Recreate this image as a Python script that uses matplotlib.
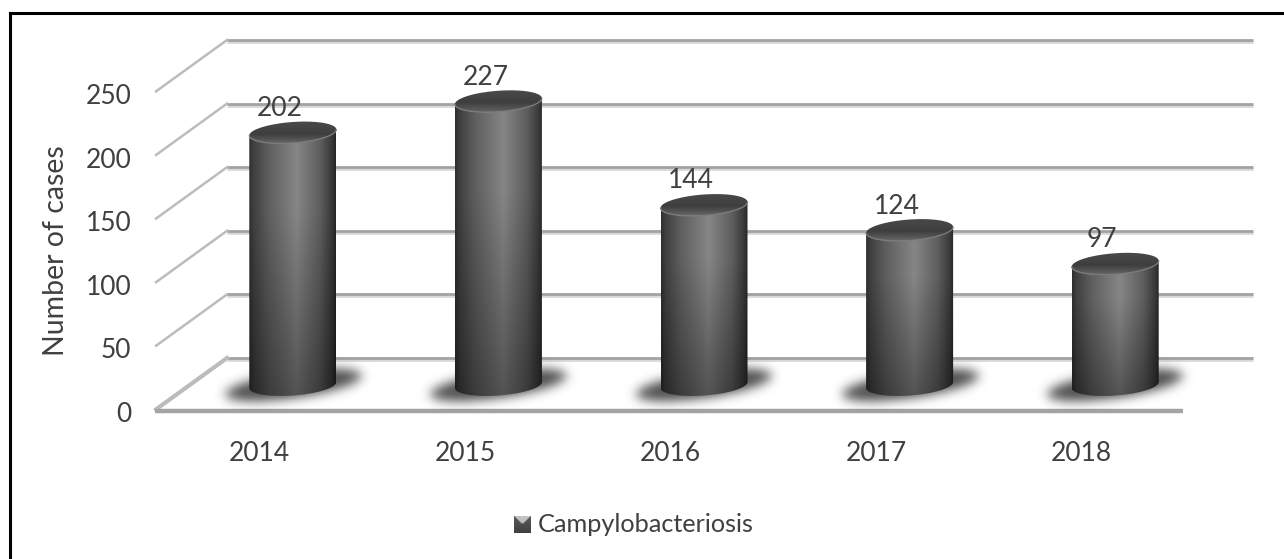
import numpy as np
import matplotlib
matplotlib.use("Agg")
import matplotlib.pyplot as plt
from matplotlib.path import Path
from matplotlib.patches import PathPatch
from matplotlib.lines import Line2D
from matplotlib.colors import LinearSegmentedColormap
from matplotlib.transforms import ScaledTranslation

plt.rcParams['font.family'] = ['Lato', 'DejaVu Sans']

years = ['2014', '2015', '2016', '2017', '2018']
cases = [202, 227, 144, 124, 97]
y_ticks = [0, 50, 100, 150, 200, 250]
series_name = 'Campylobacteriosis'
y_title = 'Number of cases'

TEXT = '#404040'
FS = 19
W, H = 1284, 559
fig = plt.figure(figsize=(W / 100, H / 100), dpi=100, facecolor='white')

# Front plane of the pseudo-3D chart; depth is added as a data-space offset.
L, R, Y0, Y250 = 155, 1183, 410, 92
ax = fig.add_axes([L / W, 1 - Y0 / H, (R - L) / W, (Y0 - Y250) / H])
ax.set_xlim(-0.5, 4.5)
ax.set_ylim(0, 250)
ax.patch.set_visible(False)
for s in ax.spines.values():
    s.set_visible(False)

ux = (R - L) / 5           # pixels per category
uy = (Y0 - Y250) / 250     # pixels per case
depth_x = 72 / ux
depth_y = 52 / uy
x_left, x_right = -0.5, 4.5

# Walls: grid lines on the back plane, slanted lines to the value axis.
for v in y_ticks:
    if v == 0:
        ax.plot([x_left, x_right], [v - 0.6, v - 0.6], color='#a4a4a4', lw=3.2,
                solid_capstyle='butt', clip_on=False, zorder=2)
    bx0, bx1 = x_left + depth_x, x_right + depth_x - 2 / ux
    by = v + depth_y
    ax.plot([bx0, bx1], [by - 1.5, by - 1.5], color='#d8d8d8', lw=2.0,
            solid_capstyle='butt', clip_on=False, zorder=1)
    ax.plot([bx0, bx1], [by, by], color='#a2a2a2', lw=2.0,
            solid_capstyle='butt', clip_on=False, zorder=1)
    ax.plot([x_left + 0.005, bx0], [v + 0.5, by], color='#bcbcbc', lw=1.8 if v else 3.0,
            clip_on=False, zorder=1)

# Cylinder geometry in data units.
cx_shift = 35.0 / ux
half_w = 43.5 / ux
half_h = 10.5 / uy
tilt = 3.0 / uy
base_v = 25 / uy
bar_scale = 1.25 / uy

body_cmap = LinearSegmentedColormap.from_list(
    'body', [(0, '#2e2e2e'), (0.05, '#404040'), (0.22, '#5e5e5e'), (0.55, '#868686'),
             (0.82, '#5e5e5e'), (0.96, '#383838'), (1, '#262626')])
cap_cmap = LinearSegmentedColormap.from_list(
    'cap', [(0, '#4c4c4c'), (0.55, '#3e3e3e'), (0.85, '#5e5e5e'), (1, '#7a7a7a')])


def rim(cx, cy, t):
    return (cx + half_w * np.cos(t),
            cy + half_h * np.sin(t) + tilt * np.cos(t))


def gauss_blur(a, sigma):
    r = int(3 * sigma)
    k = np.exp(-0.5 * (np.arange(-r, r + 1) / sigma) ** 2)
    k /= k.sum()
    a = np.apply_along_axis(lambda m: np.convolve(m, k, mode='same'), 0, a)
    return np.apply_along_axis(lambda m: np.convolve(m, k, mode='same'), 1, a)


for i, v in enumerate(cases):
    cx = i + cx_shift
    top = base_v + v * bar_scale

    # soft contact shadow spreading from the foot of the cylinder
    nx, ny = 240, 80
    gx = np.linspace(-120, 120, nx)
    gy = np.linspace(-40, 40, ny)
    XX, YY = np.meshgrid(gx, gy)
    sheared = YY - 0.14 * XX
    sh = (XX / 68) ** 2 + (sheared / 13) ** 2 < 1
    alpha = np.clip(gauss_blur(sh.astype(float), 5.5) * 1.0, 0, 1)
    rgba = np.zeros((ny, nx, 4))
    rgba[..., :3] = 0.3
    rgba[..., 3] = alpha
    ax.imshow(rgba, origin='lower', aspect='auto', zorder=3, clip_on=False,
              extent=[cx - 120 / ux, cx + 120 / ux,
                      base_v - 40 / uy, base_v + 40 / uy])

    # cylinder body: horizontal shading that darkens toward the foot
    t_front = np.linspace(np.pi, 2 * np.pi, 60)
    bx, by = rim(cx, base_v, t_front)
    tx, ty = rim(cx, top, t_front[::-1])
    verts = np.column_stack([np.r_[bx, tx], np.r_[by, ty]])
    clip = PathPatch(Path(np.vstack([verts, verts[0]])), transform=ax.transData,
                     fc='none', ec='none')
    ax.add_patch(clip)
    grad = body_cmap(np.linspace(0, 1, 128))[None, :, :3]
    n_rows = 64
    fade = np.clip(np.linspace(0.62, 1.18, n_rows), 0, 1)[:, None, None]
    body = np.repeat(grad, n_rows, axis=0) * fade
    im = ax.imshow(body, origin='lower', aspect='auto', zorder=4,
                   extent=[cx - half_w, cx + half_w,
                           base_v - half_h - tilt, top + half_h + tilt])
    im.set_clip_box(fig.bbox)
    im.set_clip_path(clip)

    # elliptical cap with a lighter front rim
    t_all = np.linspace(0, 2 * np.pi, 120)
    ex, ey = rim(cx, top, t_all)
    cap_clip = PathPatch(Path(np.column_stack([ex, ey])), transform=ax.transData,
                         fc='none', ec='none')
    ax.add_patch(cap_clip)
    cap = ax.imshow(cap_cmap(np.linspace(1, 0, 64))[:, None, :3], origin='lower',
                    aspect='auto', zorder=5,
                    extent=[cx - half_w, cx + half_w,
                            top - half_h - tilt, top + half_h + tilt])
    cap.set_clip_box(fig.bbox)
    cap.set_clip_path(cap_clip)
    rx, ry = rim(cx, top, t_front)
    ax.plot(rx, ry, color='#7c7c7c', lw=0.9, zorder=5.5, clip_on=False)

    ax.text(i + 22 / ux, top + 24 / uy, str(v), ha='center', va='center',
            fontsize=FS, color=TEXT, zorder=6)

ax.set_xlim(-0.5, 4.5)
ax.set_ylim(0, 250)

ax.set_xticks(range(len(years)), years)
ax.set_yticks(y_ticks)
ax.tick_params(axis='both', length=0, labelsize=FS, labelcolor=TEXT)
ax.tick_params(axis='x', pad=22)
ax.tick_params(axis='y', pad=17)
nudge_down = ScaledTranslation(0, -2 / 100, fig.dpi_scale_trans)
nudge_right = ScaledTranslation(1.5 / 100, 0, fig.dpi_scale_trans)
for lbl in ax.get_yticklabels():
    lbl.set_transform(lbl.get_transform() + nudge_down)
for lbl in ax.get_xticklabels():
    lbl.set_transform(lbl.get_transform() + nudge_right)
ax.set_ylabel(y_title, fontsize=20.5, color=TEXT, labelpad=12)

# Legend: small bevelled swatch next to the series name.
swatch = fig.add_axes([514 / W, 1 - 533 / H, 17 / W, 17 / H])
sy, sx = np.mgrid[0:1:32j, 0:1:32j]
bevel = 0.25 + 0.1 * sy + np.where((sy > 0.55) & (np.abs(sx - 0.5) < sy - 0.5), 0.42, 0.0)
swatch.imshow(bevel, cmap='gray', vmin=0, vmax=1, origin='lower', aspect='auto')
swatch.axis('off')
fig.text(538 / W, 1 - 525 / H, series_name, fontsize=18.2, color=TEXT, va='center', ha='left')

# Outer border of the figure: top and left edges.
for xs, ys in (([9.5, W], [12.5, 12.5]), ([9.5, 9.5], [12.5, H])):
    fig.add_artist(Line2D([x / W for x in xs], [1 - y / H for y in ys],
                          transform=fig.transFigure, color='black', lw=2.2))

fig.savefig('out.png', dpi=100, facecolor='white')
